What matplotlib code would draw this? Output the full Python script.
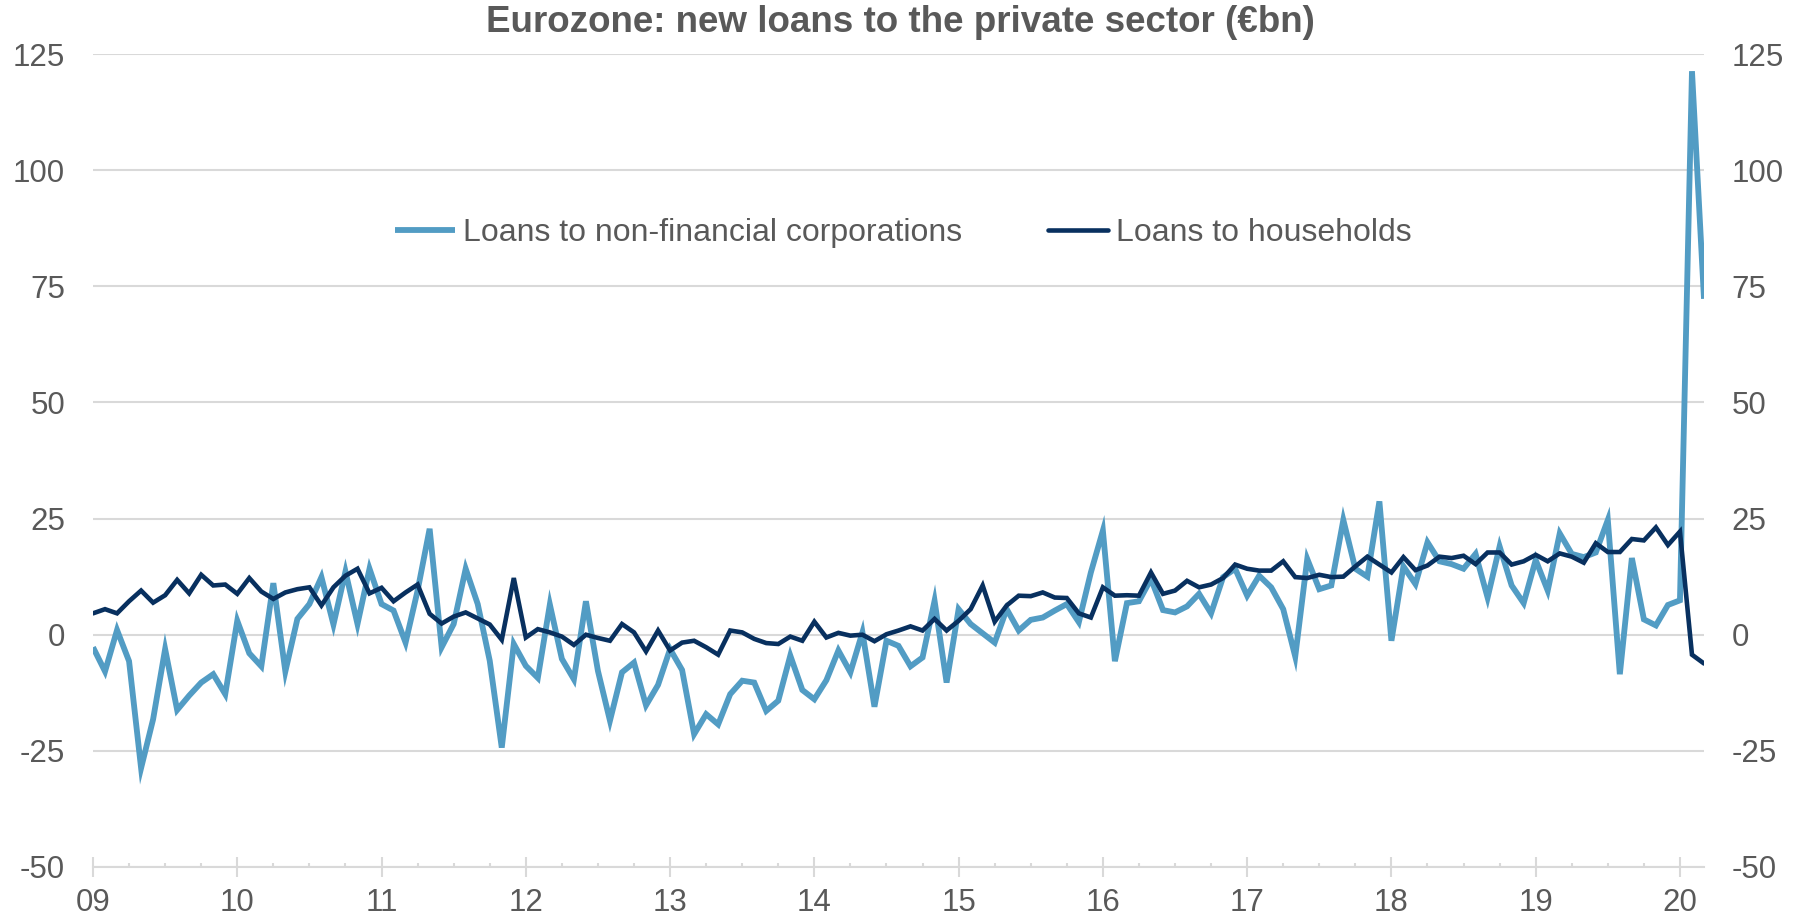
import numpy as np
import matplotlib
matplotlib.use("Agg")
import matplotlib.pyplot as plt
from matplotlib.ticker import MultipleLocator

# monthly data, Jan 2009 .. Mar 2020 (EUR bn)
months = np.arange(135)

nfc = [-2.7, -7.9, 1.0, -5.7, -28.7, -18.2, -3.1, -16.2, -13.1, -10.3, -8.5, -12.8,
       3.0, -4.0, -6.8, 11.1, -7.9, 3.4, 6.6, 12.4, 2.2, 13.6, 2.3, 14.2,
       6.6, 5.2, -1.7, 9.5, 22.8, -2.7, 2.3, 14.2, 6.6, -5.6, -24.3, -2.0,
       -6.7, -9.3, 6.5, -5.2, -9.6, 7.2, -7.8, -18.5, -8.1, -6.0, -15.2, -10.8,
       -3.1, -7.6, -21.4, -17.1, -19.3, -12.8, -9.9, -10.3, -16.4, -14.2, -4.5, -11.9,
       -13.9, -9.8, -3.4, -8.1, 0.5, -15.5, -1.3, -2.4, -6.8, -4.9, 7.3, -10.3,
       5.5, 2.3, 0.3, -1.7, 5.5, 0.9, 3.2, 3.7, 5.2, 6.6, 2.7, 13.4,
       22.4, -5.7, 6.8, 7.2, 12.0, 5.3, 4.8, 6.1, 8.8, 4.6, 12.4, 14.2,
       8.4, 12.7, 10.2, 5.5, -4.7, 16.3, 9.8, 10.6, 24.7, 14.2, 12.5, 28.7,
       -1.3, 14.7, 10.9, 19.9, 15.8, 15.2, 14.2, 17.4, 8.0, 19.0, 10.6, 6.8,
       16.1, 9.5, 21.8, 17.4, 16.7, 17.7, 24.7, -8.5, 16.5, 3.3, 2.0, 6.4,
       7.4, 121.3, 72.3]

households = [4.6, 5.5, 4.6, 7.2, 9.5, 6.9, 8.5, 11.8, 8.9, 12.9, 10.6, 10.8,
              8.8, 12.2, 9.3, 7.7, 9.1, 9.8, 10.2, 6.3, 10.2, 12.7, 14.2, 8.9,
              10.1, 7.2, 9.1, 10.8, 4.5, 2.4, 3.9, 4.8, 3.5, 2.2, -1.1, 12.2,
              -0.6, 1.2, 0.5, -0.4, -2.2, 0.0, -0.7, -1.3, 2.3, 0.5, -3.6, 0.9,
              -3.4, -1.7, -1.3, -2.7, -4.3, 0.9, 0.5, -0.9, -1.8, -2.0, -0.4, -1.3,
              2.8, -0.6, 0.4, -0.2, 0.0, -1.4, 0.1, 0.9, 1.8, 0.9, 3.4, 0.9,
              3.0, 5.5, 10.6, 2.8, 6.3, 8.4, 8.3, 9.1, 8.0, 7.9, 4.6, 3.7,
              10.2, 8.4, 8.5, 8.4, 13.4, 8.8, 9.5, 11.6, 10.2, 10.8, 12.2, 15.1,
              14.2, 13.8, 13.8, 15.8, 12.4, 12.2, 12.9, 12.4, 12.5, 14.7, 16.8, 15.1,
              13.4, 16.7, 13.9, 14.9, 16.8, 16.5, 17.0, 15.2, 17.7, 17.7, 15.1, 15.8,
              17.2, 15.8, 17.5, 16.8, 15.5, 19.7, 17.8, 17.8, 20.6, 20.3, 23.1, 19.3,
              22.2, -4.3, -6.2]

year_labels = ['09', '10', '11', '12', '13', '14', '15', '16', '17', '18', '19', '20']

grey_text = '#595959'
grid_col = '#d9d9d9'

plt.rcParams['font.family'] = ['Liberation Sans', 'DejaVu Sans']
plt.rcParams['axes.unicode_minus'] = False

fig = plt.figure(figsize=(18, 9.19), dpi=100)
ax = fig.add_axes([93 / 1800, 1 - 867 / 919, (1704 - 93) / 1800, (867 - 54) / 919])

ax.plot(months, nfc, color='#529cc4', lw=4.2, label='Loans to non-financial corporations',
        solid_joinstyle='miter', solid_capstyle='butt', zorder=3)
ax.plot(months, households, color='#08305f', lw=3.3, label='Loans to households',
        solid_joinstyle='miter', solid_capstyle='round', zorder=4)

ax.set_xlim(0, 134)
ax.set_ylim(-50, 125)
ax.set_yticks(np.arange(-50, 126, 25))
ax.yaxis.grid(True, color=grid_col, lw=1.5, zorder=0)

ax.set_xticks(np.arange(0, 133, 12))
ax.set_xticklabels(year_labels)
ax.xaxis.set_minor_locator(MultipleLocator(3))

for side in ['top', 'left', 'right']:
    ax.spines[side].set_visible(False)
ax.spines['bottom'].set_color(grid_col)
ax.spines['bottom'].set_linewidth(1.5)

ax.tick_params(axis='y', length=0, labelsize=22.5, labelcolor=grey_text, pad=20,
               labelleft=True, labelright=True)
ax.tick_params(axis='x', which='major', direction='inout', length=14, width=1.5,
               color=grid_col, labelsize=22.5, labelcolor=grey_text, pad=8)
ax.tick_params(axis='x', which='minor', direction='in', length=3, width=1.5, color=grid_col)

ax.legend(loc='center', bbox_to_anchor=(0.503, 0.78), ncol=2, frameon=False,
          fontsize=23, labelcolor=grey_text, handlelength=1.9, handletextpad=0.25,
          columnspacing=2.66)

fig.text(0.5, 1 - 23 / 919, 'Eurozone: new loans to the private sector (€bn)',
         ha='center', va='center', fontsize=26.5, fontweight='bold', color=grey_text)

fig.savefig('out.png', dpi=100)
